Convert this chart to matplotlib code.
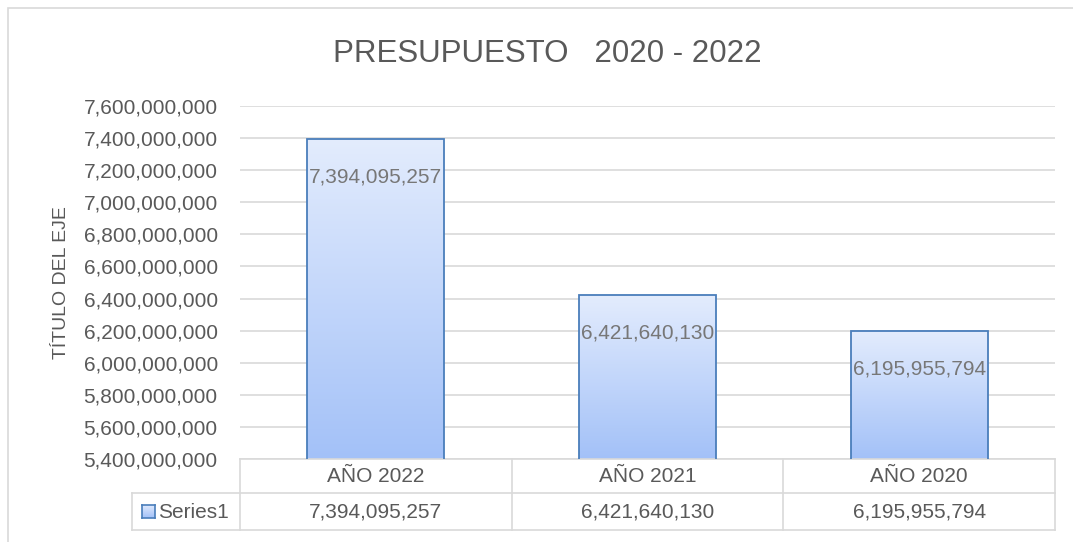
import matplotlib
matplotlib.use("Agg")
import matplotlib.pyplot as plt
import numpy as np
from matplotlib.colors import LinearSegmentedColormap
from matplotlib.patches import Rectangle

# data
categories = ["AÑO 2022", "AÑO 2021", "AÑO 2020"]
values = [7394095257, 6421640130, 6195955794]
series_name = "Series1"
title = "PRESUPUESTO   2020 - 2022"
y_title = "TÍTULO DEL EJE"

plt.rcParams['font.family'] = ['Liberation Sans', 'DejaVu Sans']
gray_txt = '#595959'
grid_col = '#d9d9d9'
edge_col = '#4a7ebb'
grad = LinearSegmentedColormap.from_list('g', ['#a3c1f8', '#e3ecfd'])

W, H = 1073, 542
fig = plt.figure(figsize=(W / 100, H / 100), dpi=100)


def fx(px):
    return px / W


def fy(py):
    return 1 - py / H


# outer chart border
fig.patches.append(Rectangle((fx(7.5), -0.05), 1.2, fy(8) + 0.05, transform=fig.transFigure,
                             fill=False, edgecolor=grid_col, lw=1.2))

ax = fig.add_axes([fx(240), fy(459), fx(1055) - fx(240), fy(106) - fy(459)])
ymin, ymax = 5.4e9, 7.6e9
ax.set_ylim(ymin, ymax)
ax.set_xlim(-0.5, len(categories) - 0.5)
ax.set_yticks(np.arange(ymin, ymax + 1, 2e8))
ax.yaxis.set_major_formatter(matplotlib.ticker.FuncFormatter(lambda v, p: "{:,.0f}".format(v)))
ax.tick_params(axis='y', length=0, pad=16, labelsize=15, labelcolor=gray_txt)
ax.set_xticks([])
for s in ax.spines.values():
    s.set_visible(False)
ax.grid(axis='y', color=grid_col, lw=1.2)
ax.set_axisbelow(True)

# bars with vertical gradient
bw = 0.504
x = np.arange(len(categories))
bars = ax.bar(x, values, width=bw, facecolor='none', edgecolor=edge_col, lw=1.3, zorder=3)
for b, v in zip(bars, values):
    im = ax.imshow(np.linspace(0, 1, 256).reshape(-1, 1), cmap=grad, origin='lower', aspect='auto',
                   extent=(b.get_x(), b.get_x() + bw, ymin, v), zorder=2)
    im.set_clip_path(b)
    ax.annotate("{:,}".format(v), (b.get_x() + bw / 2, v), xytext=(0, -27), textcoords='offset points',
                ha='center', va='center', fontsize=15, color='#777777', zorder=4)
ax.set_xlim(-0.5, len(categories) - 0.5)
ax.set_ylim(ymin, ymax)

ax.set_ylabel(y_title, fontsize=14, color=gray_txt, labelpad=10)
fig.text(fx(547), fy(54), title, ha='center', va='center', fontsize=22.5, color=gray_txt)

# data table below the plot
ph = 459 - 106
r1 = -(493 - 459) / ph
r2 = -(530 - 459) / ph
tkw = dict(transform=ax.get_xaxis_transform(), clip_on=False, color=grid_col, lw=1.2)
x_left = -0.5 - (240 - 132) / ((1055 - 240) / 3)
ax.plot([-0.5, 2.5], [0, 0], **tkw)
ax.plot([x_left, 2.5], [r1, r1], **tkw)
ax.plot([x_left, 2.5], [r2, r2], **tkw)
ax.plot([x_left, x_left], [r1, r2], **tkw)
for xb in np.arange(-0.5, 3, 1):
    ax.plot([xb, xb], [0, r2], **tkw)
for i, (c, v) in enumerate(zip(categories, values)):
    ax.text(i, r1 / 2, c, transform=ax.get_xaxis_transform(), ha='center', va='center',
            fontsize=15, color=gray_txt)
    ax.text(i, (r1 + r2) / 2, "{:,}".format(v), transform=ax.get_xaxis_transform(), ha='center',
            va='center', fontsize=15, color=gray_txt)

# legend key in table
kax = fig.add_axes([fx(142), fy(518), fx(13), fy(505) - fy(518)])
kax.imshow(np.linspace(0, 1, 64).reshape(-1, 1), cmap=grad, origin='lower', aspect='auto')
kax.set_xticks([])
kax.set_yticks([])
for s in kax.spines.values():
    s.set_color(edge_col)
    s.set_linewidth(1.2)
fig.text(fx(158), fy(512), series_name, ha='left', va='center', fontsize=15, color=gray_txt)

fig.savefig("out.png", dpi=100)
